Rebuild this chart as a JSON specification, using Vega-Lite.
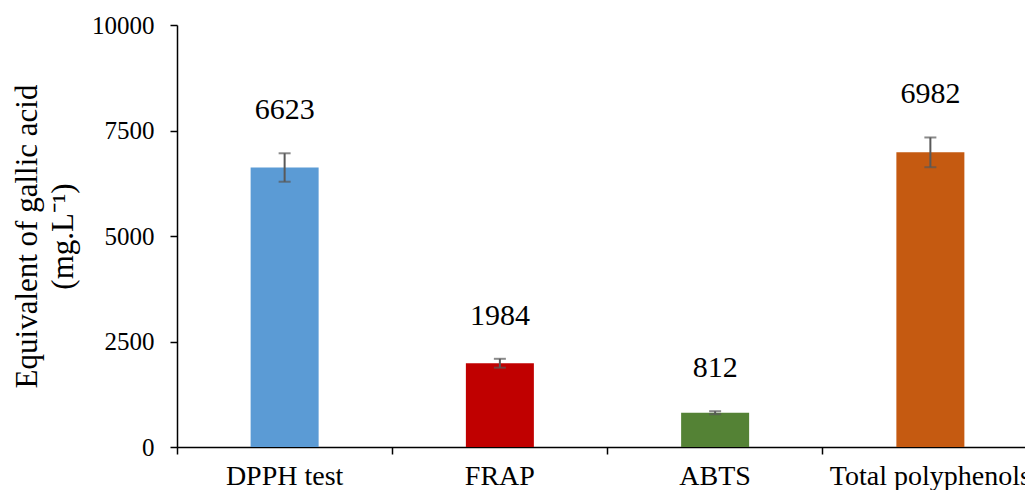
{
  "$schema": "https://vega.github.io/schema/vega-lite/v6.json",
  "width": 848,
  "height": 422,
  "autosize": {"type": "none"},
  "padding": {"left": 177, "top": 25, "right": 0, "bottom": 43},
  "background": "white",
  "config": {"view": {"stroke": null}, "font": "Times New Roman, Liberation Serif, serif"},
  "data": {
    "values": [
      {"test": "DPPH test", "value": 6623, "low": 6286, "high": 6960},
      {"test": "FRAP", "value": 1984, "low": 1880, "high": 2090},
      {"test": "ABTS", "value": 812, "low": 776, "high": 848},
      {"test": "Total polyphenols", "value": 6982, "low": 6630, "high": 7335}
    ]
  },
  "encoding": {
    "x": {
      "field": "test",
      "type": "nominal",
      "sort": null,
      "scale": {"range": [0, 861], "paddingInner": 0, "paddingOuter": 0},
      "axis": {
        "title": null,
        "labelAngle": 0,
        "labelFont": "Times New Roman, Liberation Serif, serif",
        "labelFontSize": 28,
        "labelColor": "black",
        "labelPadding": 8,
        "labelLimit": 0,
        "tickSize": 7,
        "tickColor": "black",
        "tickWidth": 1.5,
        "bandPosition": 0,
        "domainColor": "black",
        "domainWidth": 1.5,
        "labelOverlap": false,
        "labelBound": false,
        "labelFlush": false
      }
    }
  },
  "layer": [
    {
      "mark": {"type": "bar", "size": 68},
      "encoding": {
        "y": {
          "field": "value",
          "type": "quantitative",
          "scale": {"domain": [0, 10000], "nice": false},
          "axis": {
            "values": [0, 2500, 5000, 7500, 10000],
            "format": "d",
            "grid": false,
            "labelFont": "Times New Roman, Liberation Serif, serif",
            "labelFontSize": 25,
            "labelColor": "black",
            "labelPadding": 16,
            "tickSize": 7,
            "tickColor": "black",
            "tickWidth": 1.5,
            "domainColor": "black",
            "domainWidth": 1.5,
            "title": ["Equivalent of gallic acid", "(mg.L⁻¹)"],
            "titleFont": "Times New Roman, Liberation Serif, serif",
            "titleFontSize": 31,
            "titleFontWeight": "normal",
            "titleColor": "black",
            "titleAngle": -90,
            "titleAlign": "center",
            "titleBaseline": "middle",
            "titleLineHeight": 36,
            "titleX": -150,
            "titleY": 211
          }
        },
        "color": {
          "field": "test",
          "type": "nominal",
          "scale": {
            "domain": ["DPPH test", "FRAP", "ABTS", "Total polyphenols"],
            "range": ["#5B9BD5", "#C00000", "#548235", "#C55A11"]
          },
          "legend": null
        }
      }
    },
    {
      "mark": {"type": "rule", "color": "#595959", "strokeWidth": 2},
      "encoding": {
        "y": {"field": "low", "type": "quantitative"},
        "y2": {"field": "high"}
      }
    },
    {
      "mark": {"type": "tick", "color": "#595959", "size": 12, "thickness": 2, "orient": "horizontal"},
      "encoding": {"y": {"field": "low", "type": "quantitative"}}
    },
    {
      "mark": {"type": "tick", "color": "#595959", "size": 12, "thickness": 2, "orient": "horizontal"},
      "encoding": {"y": {"field": "high", "type": "quantitative"}}
    },
    {
      "mark": {"type": "text", "font": "Times New Roman, Liberation Serif, serif", "fontSize": 30, "color": "black", "baseline": "middle", "dy": -43},
      "encoding": {
        "y": {"field": "high", "type": "quantitative"},
        "text": {"field": "value", "type": "quantitative", "format": "d"}
      }
    }
  ]
}
